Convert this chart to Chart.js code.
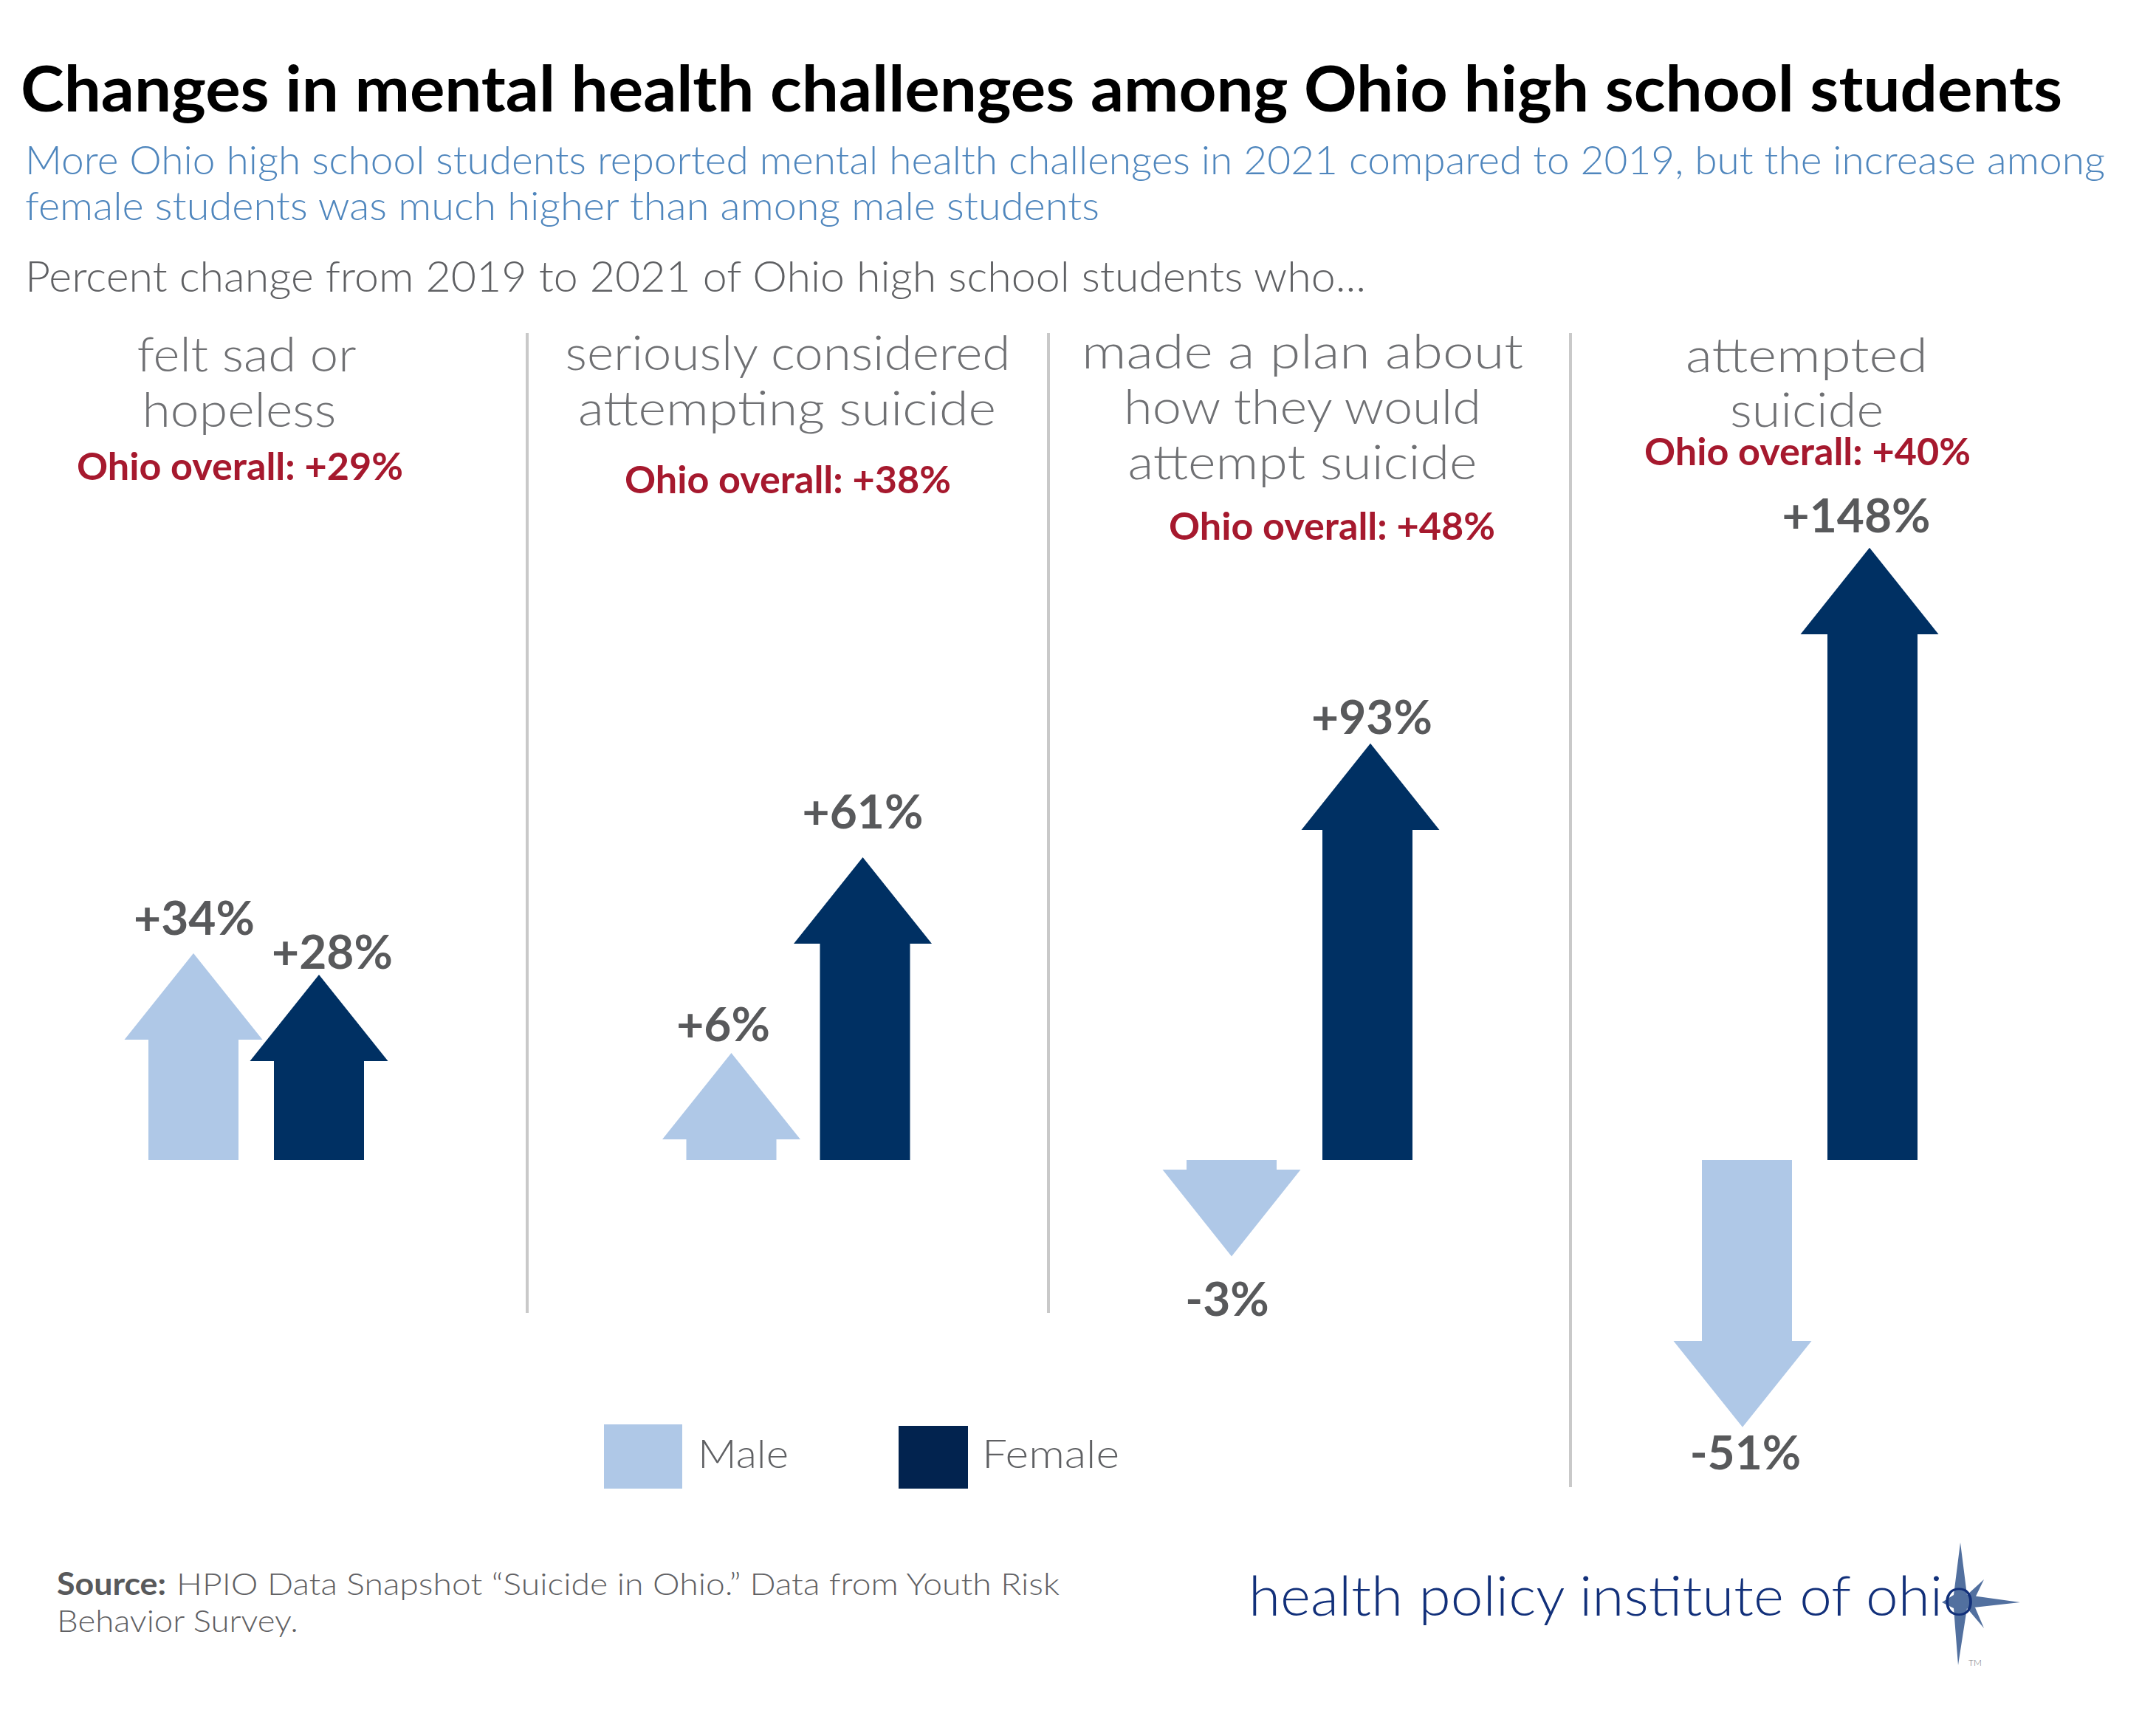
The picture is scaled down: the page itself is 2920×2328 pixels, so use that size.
<!DOCTYPE html>
<html>
<head>
<meta charset="utf-8">
<title>Changes in mental health challenges</title>
<script src="https://cdn.jsdelivr.net/npm/chart.js@4"></script>
<style>
  html, body { margin: 0; padding: 0; background: #fff; }
  #page { position: relative; width: 2920px; height: 2328px; overflow: hidden; }
  #page canvas { position: absolute; top: 0; }
  #page svg { position: absolute; left: 0; top: 0; }
  .rule { position: absolute; width: 4px; background: #c9c9c9; }
  .swatch { position: absolute; }
</style>
</head>
<body>
<div id="page">
  <svg id="texts" width="2920" height="2328"></svg>
</div>
<script>
// values
const categories = ["felt sad or hopeless", "seriously considered attempting suicide",
  "made a plan about how they would attempt suicide", "attempted suicide"];
const seriesNames = ["Male", "Female"];
const maleChange = [34, 6, -3, -51];
const femaleChange = [28, 61, 93, 148];
const overallChange = [29, 38, 48, 40];

const maleColor = "#afc8e7";
const femaleColor = "#003063";

// page layout, in px
const panelWidth = 600;
const panelCentres = [347, 1081, 1760, 2451];
const panelGaps = [170, 181, 184, 170];
const barWidth = 122;
const headWidth = 187;
const headHeight = 116;
const labelGap = 18;
// small hand shifts [male, female]: the heads and labels are not quite centred in the original
const headShiftX = [[0, 0], [0, -3], [0, 4], [-6, -4]];
const labelShiftX = [[1, 18], [-11, -3], [-6, 6], [-2, -22]];
const labelShiftY = [[4, 21], [13, -10], [10, 17], [-13, 9]];

const page = document.getElementById("page");
const svg = document.getElementById("texts");

function addText(str, x, y, size, color, width, anchor, weight) {
  const t = document.createElementNS("http://www.w3.org/2000/svg", "text");
  t.textContent = str;
  t.setAttribute("x", x);
  t.setAttribute("y", y);
  t.setAttribute("font-family", "Lato, 'Noto Sans', sans-serif");
  t.setAttribute("font-size", size);
  t.setAttribute("fill", color);
  t.setAttribute("text-anchor", anchor || "start");
  t.setAttribute("font-weight", weight || 300);
  if (width) {
    t.setAttribute("textLength", width);
    t.setAttribute("lengthAdjust", "spacingAndGlyphs");
  }
  svg.appendChild(t);
}

const titleGrey = "#6f7073";
const overallRed = "#a6192e";
const bodyGrey = "#5f6063";

addText("Changes in mental health challenges among Ohio high school students", 28, 151, 86, "#000", 2765, "start", 700);
addText("More Ohio high school students reported mental health challenges in 2021 compared to 2019, but the increase among", 34, 236, 54, "#4f86bd", 2817);
addText("female students was much higher than among male students", 34, 298, 54, "#4f86bd", 1455);
addText("Percent change from 2019 to 2021 of Ohio high school students who...", 34, 395, 58, bodyGrey, 1816);

addText("felt sad or", 334, 503, 66, titleGrey, 297, "middle");
addText("hopeless", 324, 578, 66, titleGrey, 263, "middle");
addText("seriously considered", 1067, 501, 66, titleGrey, 603, "middle");
addText("attempting suicide", 1066, 576, 66, titleGrey, 566, "middle");
addText("made a plan about", 1764, 499, 66, titleGrey, 598, "middle");
addText("how they would", 1764, 574, 66, titleGrey, 484, "middle");
addText("attempt suicide", 1764, 649, 66, titleGrey, 473, "middle");
addText("attempted", 2447, 504, 66, titleGrey, 328, "middle");
addText("suicide", 2447, 578, 66, titleGrey, 208, "middle");

const overallX = [325, 1067, 1804, 2448];
const overallY = [650, 668, 731, 630];
overallChange.forEach(function (v, i) {
  addText("Ohio overall: +" + v + "%", overallX[i], overallY[i], 52, overallRed, 442, "middle", 700);
});

addText("Source:", 77, 2160, 42, "#58595b", 148, "start", 700);
addText("HPIO Data Snapshot \u201cSuicide in Ohio.\u201d Data from Youth Risk", 239, 2160, 42, bodyGrey, 1196);
addText("Behavior Survey.", 77, 2210, 42, bodyGrey, 327);

addText("health policy institute of ohio", 1691, 2188, 74, "#12307a", 984);
addText("TM", 2666, 2256, 12, "#6d6e71");

// compass star behind the logo
const star = document.createElementNS("http://www.w3.org/2000/svg", "path");
star.setAttribute("d", "M2655 2089 L2664 2160 L2736 2170 L2664 2178 L2652 2255 L2646 2178 L2630 2170 L2646 2160 Z M2664 2160 L2687 2139 L2672 2170 Z M2672 2170 L2687 2205 L2664 2178 Z");
star.setAttribute("fill", "#52709f");
svg.insertBefore(star, svg.firstChild);

// panel dividers
[[712, 451, 1778], [1418, 451, 1778], [2125, 451, 2014]].forEach(function (r) {
  const d = document.createElement("div");
  d.className = "rule";
  d.style.left = r[0] + "px";
  d.style.top = r[1] + "px";
  d.style.height = (r[2] - r[1]) + "px";
  page.appendChild(d);
});

// legend, names taken from the series
const legendX = [818, 1217];
const legendW = [106, 94];
const legendTextX = [945, 1330];
const legendColors = [maleColor, "#02234f"];
seriesNames.forEach(function (name, i) {
  const s = document.createElement("div");
  s.className = "swatch";
  s.style.cssText = "left:" + legendX[i] + "px;top:" + (i ? 1931 : 1929) + "px;width:" + legendW[i] + "px;height:" + (i ? 85 : 87) + "px;background:" + legendColors[i];
  page.appendChild(s);
  addText(name, legendTextX[i], 1988, 54, bodyGrey, i ? 186 : 123);
});

// triangle heads on the bar ends and the value label beyond them
const arrowPlugin = {
  id: "arrows",
  afterDatasetsDraw(chart) {
    const ctx = chart.ctx;
    const panel = chart.options.plugins.arrows.panel;
    chart.data.datasets.forEach(function (ds, di) {
      chart.getDatasetMeta(di).data.forEach(function (bar) {
        const dir = bar.y <= bar.base ? -1 : 1;
        const headX = bar.x + headShiftX[panel][di];
        // whole pixel row, 1px into the bar, so no seam shows between head and bar
        const headY = Math.round(bar.y) - dir;
        ctx.fillStyle = ds.backgroundColor;
        ctx.beginPath();
        ctx.moveTo(headX - headWidth / 2, headY);
        ctx.lineTo(headX + headWidth / 2, headY);
        ctx.lineTo(headX, bar.y + dir * headHeight);
        ctx.closePath();
        ctx.fill();

        const v = ds.data[0];
        const label = (v > 0 ? "+" : "") + v + "%";
        ctx.fillStyle = "#58595b";
        ctx.font = "700 64px Lato, 'Noto Sans', sans-serif";
        ctx.textAlign = "center";
        ctx.textBaseline = dir < 0 ? "bottom" : "top";
        ctx.fillText(label, bar.x + labelShiftX[panel][di],
          bar.y + dir * (headHeight + labelGap) + labelShiftY[panel][di]);
      });
    });
  }
};

categories.forEach(function (name, i) {
  const canvas = document.createElement("canvas");
  canvas.width = panelWidth;
  canvas.height = 2328;
  canvas.style.left = (panelCentres[i] - panelWidth / 2) + "px";
  page.appendChild(canvas);

  new Chart(canvas.getContext("2d"), {
    type: "bar",
    data: {
      labels: [name],
      datasets: [
        { label: seriesNames[0], data: [maleChange[i]], backgroundColor: maleColor },
        { label: seriesNames[1], data: [femaleChange[i]], backgroundColor: femaleColor }
      ]
    },
    options: {
      responsive: false,
      animation: false,
      devicePixelRatio: 1,
      layout: { padding: { top: 607, bottom: 275, left: 0, right: 0 } },
      datasets: {
        bar: {
          categoryPercentage: 2 * panelGaps[i] / panelWidth,
          barPercentage: barWidth / panelGaps[i]
        }
      },
      scales: {
        x: { display: false },
        y: { display: false, min: -100, max: 200 }
      },
      plugins: {
        legend: { display: false },
        tooltip: { enabled: false },
        arrows: { panel: i }
      }
    },
    plugins: [arrowPlugin]
  });
});
</script>
</body>
</html>
